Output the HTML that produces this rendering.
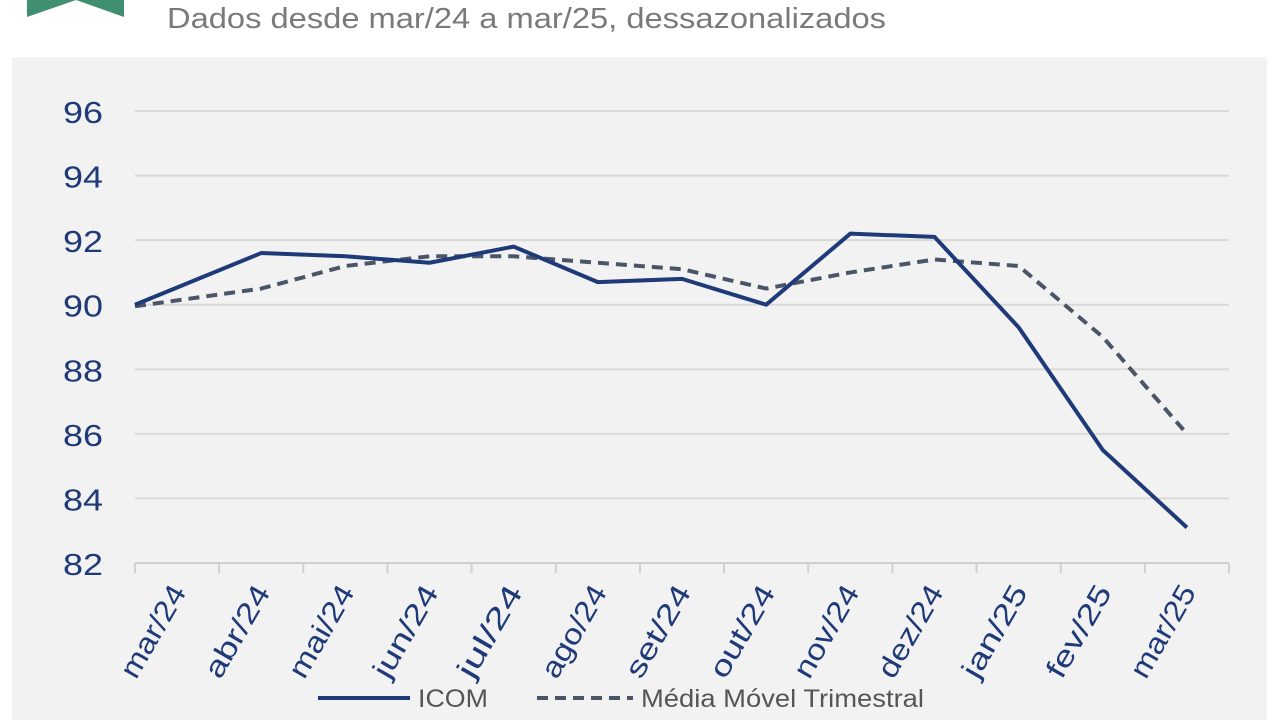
<!DOCTYPE html>
<html><head><meta charset="utf-8"><style>
body{margin:0;width:1280px;height:720px;overflow:hidden;background:#fff;font-family:"Liberation Sans",sans-serif}
</style></head><body>
<svg width="1280" height="720">
<polygon points="27,0 124,0 124,17 76,0 27,17" fill="#3f8f70"/>
<text x="167" y="28" font-size="29" fill="#7a7a7a" textLength="719" lengthAdjust="spacingAndGlyphs">Dados desde mar/24 a mar/25, dessazonalizados</text>
<rect x="12" y="57" width="1255" height="670" fill="#f2f2f2"/>
<g id="grid"></g><g id="xt"></g><g id="series"></g>
<g>
<line x1="318" y1="698" x2="410" y2="698" stroke="#1f3a78" stroke-width="4"/>
<text x="418" y="707" font-size="25" fill="#555" textLength="70" lengthAdjust="spacingAndGlyphs">ICOM</text>
<line x1="537" y1="698" x2="633" y2="698" stroke="#4a5568" stroke-width="4" stroke-dasharray="11,7"/>
<text x="641" y="707" font-size="25" fill="#555" textLength="283" lengthAdjust="spacingAndGlyphs">Média Móvel Trimestral</text>
</g>
</svg>
<script>
const categories=["mar/24","abr/24","mai/24","jun/24","jul/24","ago/24","set/24","out/24","nov/24","dez/24","jan/25","fev/25","mar/25"];
const icom=[90.0,91.6,91.5,91.3,91.8,90.7,90.8,90.0,92.2,92.1,89.3,85.5,83.1];
const mediaMovel=[89.95,90.5,91.2,91.5,91.5,91.3,91.1,90.5,91.0,91.4,91.2,89.0,86.0];
const yTicks=[82,84,86,88,90,92,94,96];
const NS="http://www.w3.org/2000/svg";
const y=v=>563-(v-82)*(452/14);
const step=1094/13;
const x=i=>i===0?135:135+(i+0.5)*step;
const tx=i=>135+i*step;
function mk(t,a,p){const e=document.createElementNS(NS,t);for(const k in a)e.setAttribute(k,a[k]);p.appendChild(e);return e;}
const grid=document.getElementById('grid');
yTicks.forEach(v=>{
 if(v!==82){const l=mk('line',{x1:135,x2:1229,y1:y(v),y2:y(v),stroke:'#d9d9d9','stroke-width':2},grid);
 
 }
 const t=mk('text',{x:83,y:y(v)+12,'font-size':31,fill:'#1f3a78','text-anchor':'middle',textLength:40,lengthAdjust:'spacingAndGlyphs'},grid);
 t.textContent=v;
 
 
});
const ax=mk('line',{x1:135,x2:1229,y1:563,y2:563,stroke:'#d0d0d0','stroke-width':2},grid);


const xt=document.getElementById('xt');
for(let i=0;i<=categories.length;i++){
 const l=mk('line',{x1:tx(i),x2:tx(i),y1:563,y2:573,stroke:'#d0d0d0','stroke-width':2},xt);
 
 
}
categories.forEach((c,i)=>{
 const cx=tx(i)+52,cy=592;
 const t=mk('text',{x:cx,y:cy,'font-size':29,fill:'#1f3a78','text-anchor':'end',textLength:c.length*17,lengthAdjust:'spacingAndGlyphs',transform:`rotate(-60 ${cx} ${cy})`},xt);
 t.textContent=c;
 
 
});
const s=document.getElementById('series');
const p2=mk('polyline',{points:mediaMovel.map((v,i)=>x(i)+','+y(v)).join(' '),fill:'none',stroke:'#4a5568','stroke-width':4,'stroke-dasharray':'11,7'},s);


const p1=mk('polyline',{points:icom.map((v,i)=>x(i)+','+y(v)).join(' '),fill:'none',stroke:'#1f3a78','stroke-width':4,'stroke-linejoin':'round'},s);


</script>
</body></html>
